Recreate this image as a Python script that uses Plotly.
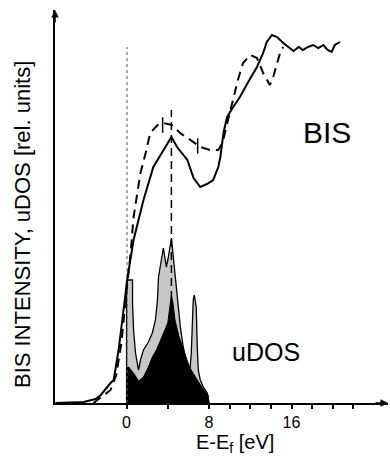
import plotly.graph_objects as go

# BIS solid curve (E - Ef in eV, intensity in rel. units)
bis_solid_e = [-6.9, -4.15, -3.0, -2.5, -1.55, -1.25, -0.77, -0.3, 0.1, 0.68, 1.64, 2.6, 3.57, 4.35,
               4.9, 5.9, 6.5, 7.15, 7.8, 8.4, 8.9, 9.1, 9.4, 9.75, 10.35, 11.0, 11.8, 12.65, 13.25,
               13.6, 14.1, 14.6, 15.2, 15.7, 16.2, 16.7, 17.1, 17.6, 18.1, 18.6, 19.1, 19.5, 19.9,
               20.2, 20.7]
bis_solid_y = [0, 1, 4, 8, 20, 23, 53, 93, 126, 163, 203, 236, 253, 266,
               256, 243, 225, 216, 219, 223, 236, 246, 270, 286, 296, 306, 321, 336, 350,
               361, 368, 366, 360, 356, 352, 356, 353, 356, 358, 355, 358, 353, 351,
               358, 361]

# BIS dashed curve
bis_dash_e = [-3.2, -2.8, -1.55, -1.0, -0.5, 0.0, 0.4, 0.68, 1.05, 1.35, 1.85, 2.3, 3.0, 3.6, 4.4,
              5.2, 6.2, 7.15, 8.1, 8.9, 9.3, 9.6, 9.9, 10.35, 10.8, 11.3, 12.0, 12.65, 13.25,
              13.9, 14.2, 14.6, 14.9, 15.2]
bis_dash_y = [0, 3, 13, 28, 60, 112, 150, 186, 210, 230, 250, 270, 278, 280, 278,
              270, 263, 256, 253, 253, 260, 273, 286, 303, 323, 340, 348, 345, 330,
              318, 325, 340, 350, 356]

# uDOS total (stippled) envelope
dos_tot_e = [0.0, 0.0, 0.1, 0.58, 0.58, 0.68, 0.87, 1.06, 1.16, 1.35, 1.64, 2.12, 2.5, 2.8, 3.0,
             3.1, 3.48, 3.57, 3.86, 4.06, 4.35, 4.54, 4.73, 4.93, 5.22, 5.5, 5.9, 6.1, 6.28,
             6.38, 6.47, 6.57, 6.76, 6.86, 6.96, 7.15, 7.44, 7.83, 7.93, 8.0]
dos_tot_y = [0, 120, 123, 123, 100, 73, 50, 36, 33, 43, 53, 61, 70, 83, 103,
             126, 150, 155, 136, 146, 165, 146, 126, 100, 76, 56, 36, 26, 50,
             83, 103, 108, 96, 56, 33, 23, 16, 10, 3, 0]

# uDOS partial (black) component
dos_part_e = [0.0, 0.0, 0.2, 0.68, 1.16, 1.64, 2.12, 2.5, 2.9, 3.3, 3.7, 4.0, 4.25, 4.35, 4.5,
              4.7, 5.1, 5.6, 6.1, 6.8, 7.3, 7.9, 8.0]
dos_part_y = [0, 35, 36, 30, 22, 26, 36, 46, 53, 63, 72, 80, 100, 108, 100,
              83, 66, 50, 36, 24, 16, 8, 0]

# reference lines
fermi_e = [0.05, 0.05]
fermi_y = [0, 356]
peak_e = [4.35, 4.35]
peak_y = [0, 293]

# error-bar style marks on the dashed curve
mark_e = [3.5, 6.9]
mark_y = [278, 257]

tick_vals = [0, 4, 8, 10, 12, 14, 16, 18, 20, 22]
tick_text = ["0", "", "8", "", "", "", "16", "", "", ""]

fig = go.Figure()
fig.add_trace(go.Scatter(x=dos_tot_e, y=dos_tot_y, mode="lines", fill="tozeroy",
                         fillcolor="#c8c8c8", line=dict(color="black", width=1.3)))
fig.add_trace(go.Scatter(x=dos_part_e, y=dos_part_y, mode="lines", fill="tozeroy",
                         fillcolor="black", line=dict(color="black", width=1)))
fig.add_trace(go.Scatter(x=fermi_e, y=fermi_y, mode="lines",
                         line=dict(color="#555555", width=1, dash="dot")))
fig.add_trace(go.Scatter(x=peak_e, y=peak_y, mode="lines",
                         line=dict(color="black", width=1.5, dash="8px,5px")))
fig.add_trace(go.Scatter(x=bis_dash_e, y=bis_dash_y, mode="lines",
                         line=dict(color="black", width=2, dash="9px,6px")))
fig.add_trace(go.Scatter(x=bis_solid_e, y=bis_solid_y, mode="lines",
                         line=dict(color="black", width=2)))
fig.add_trace(go.Scatter(x=mark_e, y=mark_y, mode="markers",
                         marker=dict(symbol="line-ns", size=11,
                                     line=dict(color="black", width=1.5))))

font_n = "Liberation Sans Narrow, Arial Narrow, Liberation Sans, sans-serif"
font_r = "Liberation Sans, Arial, sans-serif"

fig.update_layout(
    width=390, height=457,
    margin=dict(l=55, r=2, t=10, b=54),
    paper_bgcolor="white", plot_bgcolor="white",
    showlegend=False,
    xaxis=dict(range=[-6.94, 25.36], showgrid=False, zeroline=False,
               showline=True, linecolor="black", linewidth=1.5,
               tickmode="array", tickvals=tick_vals, ticktext=tick_text,
               ticks="outside", ticklen=4, tickwidth=1.5, tickcolor="black",
               ticklabelstandoff=0,
               tickfont=dict(family=font_n, size=16, color="black")),
    yaxis=dict(range=[0, 393], showgrid=False, zeroline=False,
               showline=True, linecolor="black", linewidth=1.5,
               showticklabels=False, ticks=""),
    annotations=[
        dict(x=19.45, y=271, xref="x", yref="y", text="BIS", showarrow=False,
             xanchor="center", yanchor="middle",
             font=dict(family=font_n, size=30, color="black")),
        dict(x=13.5, y=51, xref="x", yref="y", text="uDOS", showarrow=False,
             xanchor="center", yanchor="middle",
             font=dict(family=font_r, size=25, color="black")),
        dict(x=10.5, y=-0.103, xref="x", yref="paper", text="E-E<sub>f</sub> [eV]",
             showarrow=False, xanchor="center", yanchor="middle",
             font=dict(family=font_n, size=20, color="black")),
        dict(x=-0.096, y=0.453, xref="paper", yref="paper",
             text="BIS INTENSITY, uDOS [rel. units]", textangle=-90,
             showarrow=False, xanchor="center", yanchor="middle",
             font=dict(family=font_r, size=22, color="black")),
        dict(x=1, y=0, xref="paper", yref="paper", ax=-14, ay=0, text="",
             showarrow=True, arrowhead=2, arrowsize=1, arrowwidth=1.5, arrowcolor="black"),
        dict(x=0, y=1, xref="paper", yref="paper", ax=0, ay=14, text="",
             showarrow=True, arrowhead=2, arrowsize=1, arrowwidth=1.5, arrowcolor="black"),
    ],
)

fig.write_html("out.html", config={"displayModeBar": False},
               post_script="document.body.style.margin='0';document.body.style.overflow='hidden';")
